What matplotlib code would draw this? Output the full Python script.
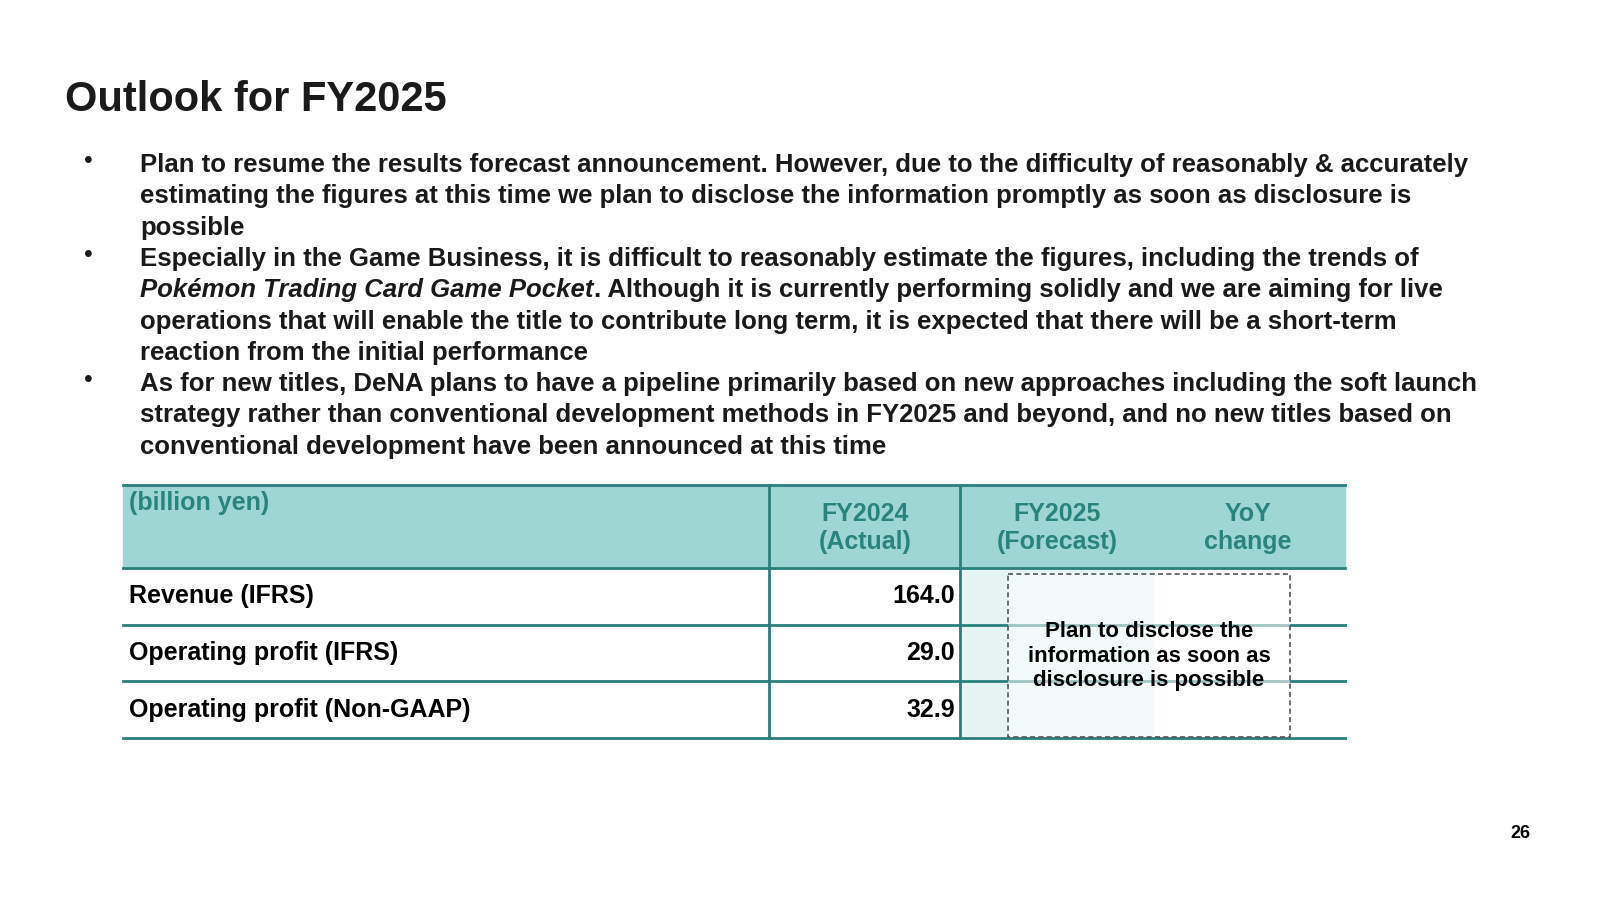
import matplotlib
matplotlib.use("Agg")
import matplotlib.pyplot as plt
from matplotlib.patches import Rectangle

plt.rcParams["font.family"] = "Liberation Sans"

title = "Outlook for FY2025"
bullet_lines = [
    [("Plan to resume the results forecast announcement. However, due to the difficulty of reasonably & accurately", "normal")],
    [("estimating the figures at this time we plan to disclose the information promptly as soon as disclosure is", "normal")],
    [("possible", "normal")],
    [("Especially in the Game Business, it is difficult to reasonably estimate the figures, including the trends of", "normal")],
    [("Pokémon Trading Card Game Pocket", "italic"), (". Although it is currently performing solidly and we are aiming for live", "normal")],
    [("operations that will enable the title to contribute long term, it is expected that there will be a short-term", "normal")],
    [("reaction from the initial performance", "normal")],
    [("As for new titles, DeNA plans to have a pipeline primarily based on new approaches including the soft launch", "normal")],
    [("strategy rather than conventional development methods in FY2025 and beyond, and no new titles based on", "normal")],
    [("conventional development have been announced at this time", "normal")],
]
bullet_starts = [0, 3, 7]

unit_label = "(billion yen)"
col_headers = ["FY2024\n(Actual)", "FY2025\n(Forecast)", "YoY\nchange"]
row_labels = ["Revenue (IFRS)", "Operating profit (IFRS)", "Operating profit (Non-GAAP)"]
fy2024 = [164.0, 29.0, 32.9]
note = "Plan to disclose the\ninformation as soon as\ndisclosure is possible"
page_no = "26"

teal = "#2A7F7A"
head_fill = "#9DD6D3"
head_text = "#2A847E"

fig = plt.figure(figsize=(16, 9), dpi=100)
ax = fig.add_axes([0, 0, 1, 1])
ax.set_xlim(0, 1600)
ax.set_ylim(900, 0)
ax.axis("off")

ax.text(65, 100, title, fontsize=30, fontweight="bold", va="center", color="#1a1a1a")

fig.canvas.draw()
r = fig.canvas.get_renderer()
inv = ax.transData.inverted()
y0, dy = 165, 31.3
for i, parts in enumerate(bullet_lines):
    y = y0 + i * dy
    x = 140
    for s, style in parts:
        t = ax.text(x, y, s, fontsize=18.5, fontweight="bold", fontstyle=style,
                    va="center", color="#1a1a1a")
        bb = t.get_window_extent(r)
        x = inv.transform((bb.x1, bb.y0))[0]
    if i in bullet_starts:
        ax.text(88, y - 4, "•", fontsize=18, va="center", ha="center", color="#1a1a1a")

# table geometry
xl, xc1, xc2, xr = 123, 769, 960, 1345
ytop, yhead = 485, 568
row_h = 56.7
yb = yhead + row_h * len(row_labels)

ax.add_patch(Rectangle((xl, ytop), xr - xl, yhead - ytop, color=head_fill, zorder=1))
ax.add_patch(Rectangle((xc2, yhead), 1153 - xc2, yb - yhead, color="#E4F5F4", zorder=1))
ax.text(129, 503, unit_label, fontsize=18, fontweight="bold", color=head_text, va="center")
for xh, lab in zip([865, 1057, 1248], col_headers):
    ax.text(xh, 528, lab, fontsize=18, fontweight="bold", color=head_text,
            va="center", ha="center", linespacing=1.25)

for i, (lab, v) in enumerate(zip(row_labels, fy2024)):
    yc = yhead + row_h * (i + 0.5)
    ax.text(129, yc, lab, fontsize=18, fontweight="bold", va="center", color="black")
    ax.text(955, yc, f"{v:.1f}", fontsize=18, fontweight="bold", va="center", ha="right", color="black")

ax.plot([xl, xr], [ytop, ytop], color=teal, lw=2, zorder=2)
for i in range(len(row_labels) + 1):
    yy = yhead + row_h * i
    ax.plot([xl, xr], [yy, yy], color=teal, lw=2, zorder=2)
for xx in (xc1, xc2):
    ax.plot([xx, xx], [ytop, yb], color=teal, lw=2, zorder=2)

ax.add_patch(Rectangle((1008, 574), 282, 163, facecolor=(1, 1, 1, 0.55),
                       edgecolor="#555555", lw=1.2, ls=(0, (3, 2)), zorder=3))
ax.text(1149, 656, note, fontsize=16, fontweight="bold", ha="center", va="center",
        linespacing=1.2, color="black", zorder=4)

ax.text(1520, 834, page_no, fontsize=13, fontweight="bold", ha="center", va="center")

fig.savefig("out.png", dpi=100)
